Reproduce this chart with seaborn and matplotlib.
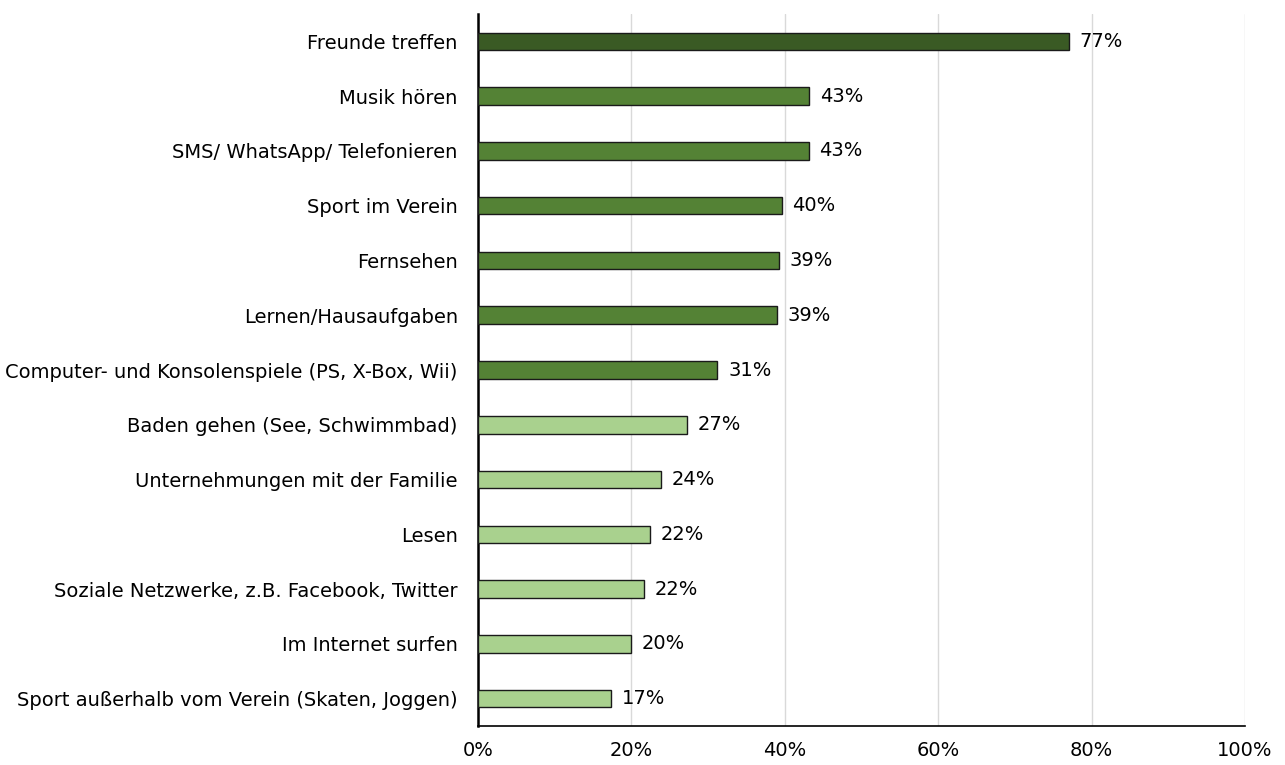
import matplotlib
matplotlib.use("Agg")
import matplotlib.pyplot as plt
import seaborn as sns
import pandas as pd

categories = [
    "Freunde treffen",
    "Musik hören",
    "SMS/ WhatsApp/ Telefonieren",
    "Sport im Verein",
    "Fernsehen",
    "Lernen/Hausaufgaben",
    "Computer- und Konsolenspiele (PS, X-Box, Wii)",
    "Baden gehen (See, Schwimmbad)",
    "Unternehmungen mit der Familie",
    "Lesen",
    "Soziale Netzwerke, z.B. Facebook, Twitter",
    "Im Internet surfen",
    "Sport außerhalb vom Verein (Skaten, Joggen)",
]
values = [77.0, 43.2, 43.1, 39.6, 39.2, 39.0, 31.2, 27.2, 23.9, 22.4, 21.6, 19.9, 17.4]
value_labels = ["77%", "43%", "43%", "40%", "39%", "39%", "31%", "27%", "24%", "22%", "22%", "20%", "17%"]
groups = ["top", "mid", "mid", "mid", "mid", "mid", "mid",
          "low", "low", "low", "low", "low", "low"]
group_colors = {"top": "#3A5A24", "mid": "#548235", "low": "#A9D18E"}
x_ticks = [0, 20, 40, 60, 80, 100]
x_tick_labels = ["0%", "20%", "40%", "60%", "80%", "100%"]

df = pd.DataFrame({"cat": categories, "val": values, "grp": groups})

sns.set_style("white")
plt.rcParams["font.family"] = ["DejaVu Sans"]

FS = 14

fig = plt.figure(figsize=(12.85, 7.65), dpi=100)
ax = fig.add_axes([478 / 1285, 1 - 726 / 765, (1245 - 478) / 1285, (726 - 14) / 765])

sns.barplot(data=df, x="val", y="cat", hue="grp", palette=group_colors,
            dodge=False, orient="h", width=0.32, edgecolor="#1a1a1a",
            linewidth=1.0, saturation=1, legend=False, ax=ax, zorder=3)

for i, (v, lab) in enumerate(zip(values, value_labels)):
    ax.text(v + 1.4, i, lab, va="center", ha="left", fontsize=FS, color="#000000")

ax.set_xlim(0, 100)
ax.set_ylim(12.5, -0.5)
ax.set_xticks(x_ticks)
ax.set_xticklabels(x_tick_labels, fontsize=FS, color="black")
ax.tick_params(axis="x", length=0, pad=11, colors="black")
ax.tick_params(axis="y", length=0, pad=14.5, labelsize=FS, colors="black")
ax.set_xlabel("")
ax.set_ylabel("")
ax.grid(axis="x", color="#d9d9d9", linewidth=1.0, zorder=0)
ax.set_axisbelow(True)
for s in ["top", "right"]:
    ax.spines[s].set_visible(False)
ax.spines["left"].set_color("black")
ax.spines["left"].set_linewidth(1.8)
ax.spines["bottom"].set_color("black")
ax.spines["bottom"].set_linewidth(1.2)

fig.savefig("out.png", dpi=100)
